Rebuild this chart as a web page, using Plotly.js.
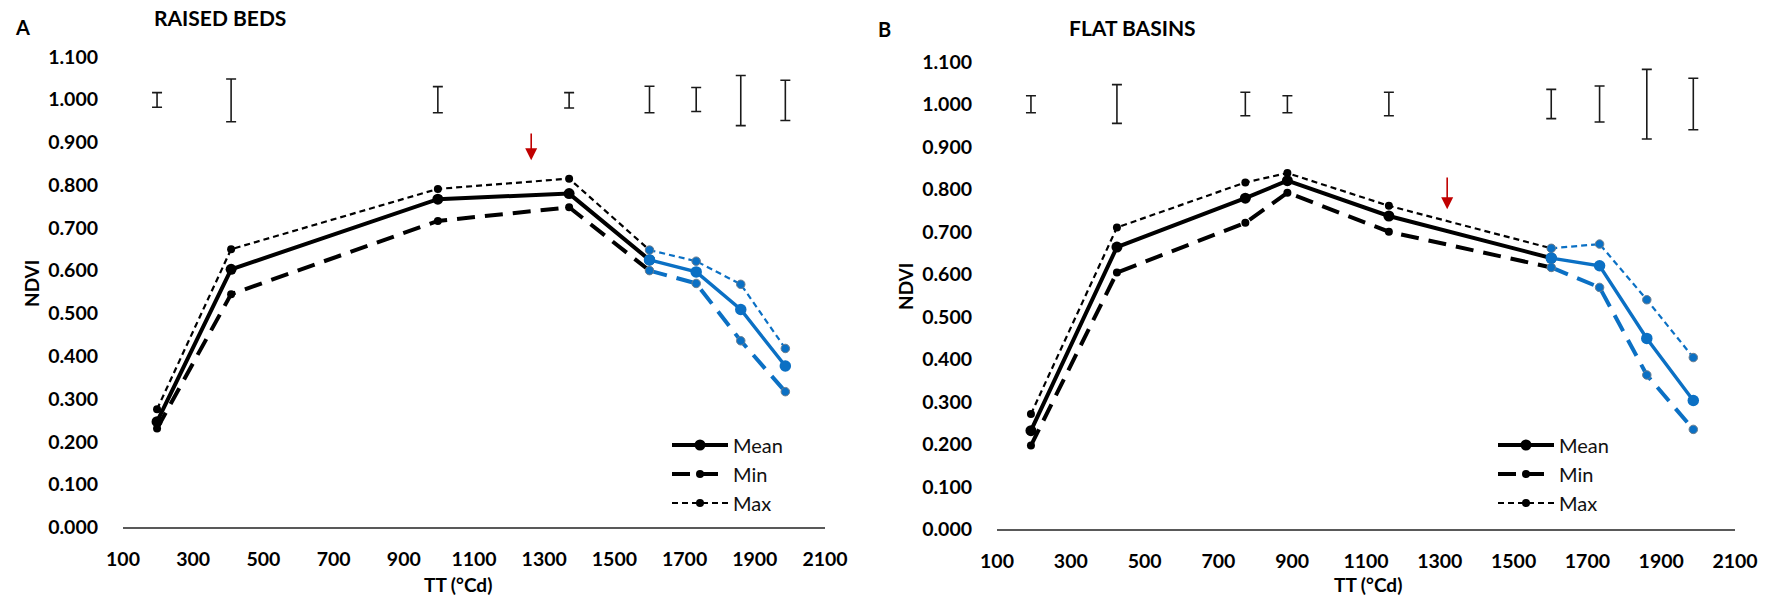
<!DOCTYPE html>
<html>
<head>
<meta charset="utf-8">
<script src="https://cdn.plot.ly/plotly-3.0.1.min.js"></script>
<style>
  html, body { margin: 0; padding: 0; background: #fff; }
  #chart { width: 1767px; height: 598px; }
</style>
</head>
<body>
<div id="chart"></div>
<script>
// ---------- Panel A : RAISED BEDS ----------
const tA      = [197, 408, 997, 1371, 1600, 1733, 1860, 1987];
const meanA   = [0.247, 0.603, 0.767, 0.780, 0.625, 0.597, 0.509, 0.377];
const minA    = [0.231, 0.545, 0.716, 0.748, 0.600, 0.570, 0.436, 0.317];
const maxA    = [0.276, 0.650, 0.791, 0.815, 0.648, 0.622, 0.568, 0.418];
const errTopA = [1.016, 1.048, 1.030, 1.016, 1.031, 1.028, 1.056, 1.045];
const errBotA = [0.982, 0.948, 0.969, 0.980, 0.969, 0.972, 0.939, 0.951];
const splitA  = 4;   // first point drawn in blue
const arrowA  = {t: 1263, from: 0.924, to: 0.858};

// ---------- Panel B : FLAT BASINS ----------
const tB      = [192, 425, 773, 887, 1162, 1602, 1733, 1861, 1987];
const meanB   = [0.232, 0.664, 0.779, 0.820, 0.737, 0.638, 0.620, 0.449, 0.303];
const minB    = [0.197, 0.604, 0.721, 0.792, 0.700, 0.616, 0.569, 0.363, 0.235];
const maxB    = [0.271, 0.710, 0.816, 0.838, 0.761, 0.661, 0.671, 0.540, 0.404];
const errTopB = [1.020, 1.046, 1.028, 1.020, 1.028, 1.035, 1.043, 1.082, 1.061];
const errBotB = [0.980, 0.955, 0.973, 0.980, 0.973, 0.966, 0.958, 0.918, 0.940];
const splitB  = 5;
const arrowB  = {t: 1320, from: 0.831, to: 0.753};

// ---------- Labels ----------
const seriesNames = ['Mean', 'Min', 'Max'];
const panelLetters = ['A', 'B'];
const panelTitles = ['RAISED BEDS', 'FLAT BASINS'];
const xTitle = 'TT (°Cd)';
const yTitle = 'NDVI';

// ---------- Styles ----------
const BLACK = '#000000';
const BLUE = '#0B70C4';
const FONT = 'Lato, "Open Sans", sans-serif';
const styles = {
  Mean: {width: 4,   dash: 'solid',      size: 11},
  Min:  {width: 4,   dash: '18px,10px',  size: 8},
  Max:  {width: 2.2, dash: '6px,4px',    size: 8}
};

const W = 1767, H = 598;
const px = v => v / W;
const py = v => 1 - v / H;

function panelTraces(t, mean, mn, mx, top, bot, split, xa, ya, legendId) {
  const traces = [];
  traces.push({
    x: t, y: bot, xaxis: xa, yaxis: ya, type: 'scatter', mode: 'markers',
    marker: {size: 1, color: 'rgba(0,0,0,0)'}, showlegend: false, hoverinfo: 'skip',
    error_y: {type: 'data', symmetric: false, array: top.map((v, i) => v - bot[i]),
              arrayminus: top.map(() => 0), color: '#1a1a1a', thickness: 1.6, width: 5}
  });
  const sets = {Mean: mean, Min: mn, Max: mx};
  const order = ['Max', 'Min', 'Mean'];
  // black parts (up to and including the first blue point, which the blue trace covers)
  order.forEach(name => {
    const s = styles[name];
    const vals = sets[name];
    traces.push({
      x: t.slice(0, split + 1), y: vals.slice(0, split + 1), xaxis: xa, yaxis: ya,
      type: 'scatter', mode: 'lines+markers', name: name,
      legend: legendId, legendrank: seriesNames.indexOf(name) + 1,
      line: {color: BLACK, width: s.width, dash: s.dash},
      marker: {color: BLACK, size: s.size},
      showlegend: true
    });
  });
  // blue parts
  order.forEach(name => {
    const s = styles[name];
    const vals = sets[name];
    traces.push({
      x: t.slice(split), y: vals.slice(split), xaxis: xa, yaxis: ya,
      type: 'scatter', mode: 'lines+markers', name: name + ' (late)',
      line: {color: BLUE, width: name === 'Mean' ? 3.4 : s.width, dash: s.dash},
      marker: {color: BLUE, size: name === 'Mean' ? 11.5 : 8.5,
               line: {color: name === 'Mean' ? BLUE : '#6d7f90', width: name === 'Mean' ? 0 : 1}},
      showlegend: false
    });
  });
  return traces;
}

const data = [
  ...panelTraces(tA, meanA, minA, maxA, errTopA, errBotA, splitA, 'x', 'y', 'legend'),
  ...panelTraces(tB, meanB, minB, maxB, errTopB, errBotB, splitB, 'x2', 'y2', 'legend2')
];

function xAxis(domain, anchor) {
  return {
    domain: domain, anchor: anchor, range: [100, 2100], tick0: 100, dtick: 200,
    showgrid: false, zeroline: false, showline: true, linecolor: '#595959', linewidth: 1.6,
    ticks: '', ticklabelstandoff: 14,
    tickfont: {family: FONT, size: 19.5, color: '#000', weight: 'bold'},
    automargin: false, fixedrange: true
  };
}
function yAxis(domain, anchor) {
  return {
    domain: domain, anchor: anchor, range: [0, 1.1], tick0: 0, dtick: 0.1,
    tickformat: '.3f', showgrid: false, zeroline: false, showline: false, ticks: '',
    ticklabelstandoff: 24,
    tickfont: {family: FONT, size: 19.5, color: '#000', weight: 'bold'},
    automargin: false, fixedrange: true
  };
}

const txt = (text, x, y, size, bold, extra) => Object.assign({
  text: text, xref: 'paper', yref: 'paper', x: px(x), y: py(y),
  xanchor: 'center', yanchor: 'middle', showarrow: false,
  font: {family: FONT, size: size, color: '#000', weight: bold ? 'bold' : 'normal'}
}, extra || {});

const arrow = (a, xr, yr) => ({
  x: a.t, y: a.to, ax: a.t, ay: a.from, xref: xr, yref: yr, axref: xr, ayref: yr,
  text: '', showarrow: true, arrowhead: 2, arrowsize: 1.5, arrowwidth: 1.6, arrowcolor: '#C00000'
});

const legendBase = {
  font: {family: FONT, size: 20, color: '#111'}, bgcolor: 'rgba(0,0,0,0)',
  xanchor: 'left', yanchor: 'top', itemwidth: 56, tracegroupgap: 0, itemclick: false
};

const layout = {
  width: W, height: H, margin: {l: 0, r: 0, t: 0, b: 0},
  paper_bgcolor: '#fff', plot_bgcolor: '#fff',
  xaxis: xAxis([px(123), px(825)], 'y'),
  yaxis: yAxis([py(527.3), py(56.7)], 'x'),
  xaxis2: xAxis([px(997), px(1735)], 'y2'),
  yaxis2: yAxis([py(529.3), py(61.7)], 'x2'),
  legend: Object.assign({}, legendBase, {x: px(667), y: py(425.5)}),
  legend2: Object.assign({}, legendBase, {x: px(1493), y: py(425.5)}),
  annotations: [
    txt(panelLetters[0], 22, 27, 20, true),
    txt(panelTitles[0], 220, 18, 21, true),
    txt(panelLetters[1], 885, 29, 20, true),
    txt(panelTitles[1], 1132, 28, 21, true),
    txt(yTitle, 31, 284, 19, true, {textangle: -90}),
    txt(yTitle, 905, 286, 19, true, {textangle: -90}),
    txt(xTitle, 458, 584, 19, true),
    txt(xTitle, 1368, 584, 19, true),
    arrow(arrowA, 'x', 'y'),
    arrow(arrowB, 'x2', 'y2')
  ]
};

Plotly.newPlot('chart', data, layout, {staticPlot: true, displayModeBar: false});
</script>
</body>
</html>
